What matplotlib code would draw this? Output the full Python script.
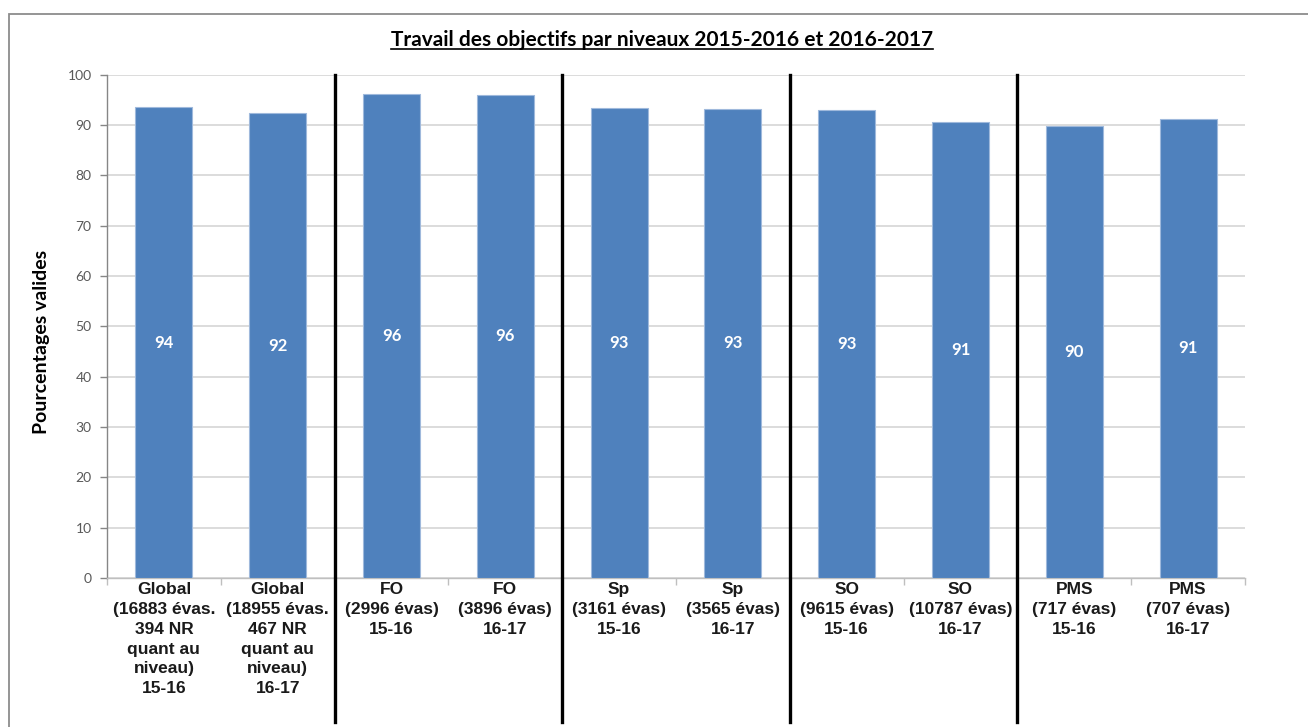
import numpy as np
import matplotlib
matplotlib.use('Agg')
import matplotlib.pyplot as plt
from matplotlib.patches import Rectangle
from matplotlib.lines import Line2D

# Data
categories = [
    "Global\n(16883 évas.\n394 NR\nquant au\nniveau)\n15-16",
    "Global\n(18955 évas.\n467 NR\nquant au\nniveau)\n16-17",
    "FO\n(2996 évas)\n15-16",
    "FO\n(3896 évas)\n16-17",
    "Sp\n(3161 évas)\n15-16",
    "Sp\n(3565 évas)\n16-17",
    "SO\n(9615 évas)\n15-16",
    "SO\n(10787 évas)\n16-17",
    "PMS\n(717 évas)\n15-16",
    "PMS\n(707 évas)\n16-17",
]
values = [93.6, 92.4, 96.2, 96.0, 93.4, 93.3, 93.1, 90.7, 89.8, 91.3]
separators_after = [2, 4, 6, 8]  # group boundaries (index of category)
yticks = list(range(0, 101, 10))

fig = plt.figure(figsize=(13.08, 7.27), dpi=100)
ax = fig.add_axes([0.0818, 0.205, 0.870, 0.692])

x = np.arange(len(categories))
bars = ax.bar(x, values, width=0.5, color='#4F81BD', edgecolor='#9fb9dc',
              linewidth=0.8, zorder=3)

for xi, v in zip(x, values):
    ax.text(xi, v / 2, f"{round(v)}", ha='center', va='center', color='white',
            fontsize=12, fontweight='bold', family='Lato', zorder=4)

ax.set_xlim(-0.5, len(categories) - 0.5)
ax.set_ylim(0, 100)
ax.set_yticks(yticks)
ax.set_yticklabels([str(t) for t in yticks], family='Lato', fontsize=10,
                   color='#595959')
ax.tick_params(axis='y', length=5, color='#868686', width=1, pad=6)
ax.yaxis.grid(True, color='#d9d9d9', linewidth=1.3, zorder=0)
ax.set_axisbelow(True)

ax.set_xticks(x)
ax.set_xticklabels(categories, family='Liberation Sans', fontweight='bold',
                   fontsize=12.5, color='#1a1a1a', linespacing=1.4)
ax.tick_params(axis='x', length=0, pad=3)
ax.set_xticks(np.arange(len(categories) + 1) - 0.5, minor=True)
ax.tick_params(axis='x', which='minor', length=5, color='#bfbfbf', width=1)

for s in ['top', 'right']:
    ax.spines[s].set_visible(False)
ax.spines['left'].set_color('#868686')
ax.spines['bottom'].set_color('#bfbfbf')
ax.spines['left'].set_linewidth(1)
ax.spines['bottom'].set_linewidth(1)

# group separators extending into the label area
for b in separators_after:
    ax.plot([b - 0.5, b - 0.5], [1.0, -0.287], color='black', linewidth=2.4,
            transform=ax.get_xaxis_transform(), clip_on=False, zorder=5)

fig.text(42 / 1308, 1 - 342 / 727, "Pourcentages valides", rotation=90,
         ha='center', va='center', family='Lato', fontweight='bold',
         fontsize=14)

title = fig.text(0.5 + 8 / 1308, 1 - 40 / 727,
                 "Travail des objectifs par niveaux 2015-2016 et 2016-2017",
                 ha='center', va='center', family='Lato', fontweight='bold',
                 fontsize=15)

# underline the title
fig.canvas.draw()
bb = title.get_window_extent().transformed(fig.transFigure.inverted())
fig.add_artist(Line2D([bb.x0, bb.x1], [bb.y0 + 0.002, bb.y0 + 0.002],
                      color='black', linewidth=1.2, transform=fig.transFigure))

# outer frame (only top/left visible in the crop)
fig.add_artist(Rectangle((9 / 1308, -0.05), 1.2, 1 - 14 / 727 + 0.05,
                         transform=fig.transFigure, fill=False,
                         edgecolor='#8c8c8c', linewidth=1.3, clip_on=False))

fig.savefig('out.png', dpi=100)
